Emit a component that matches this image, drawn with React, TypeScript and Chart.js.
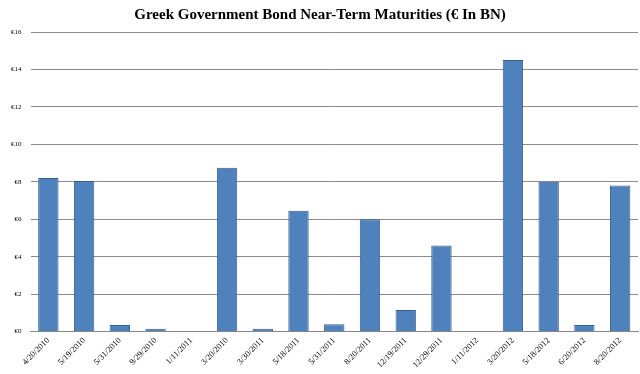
import React, { useEffect, useRef } from "react";
import { Chart, registerables } from "chart.js";

Chart.register(...registerables);

const categories = [
  "4/20/2010", "5/19/2010", "5/31/2010", "9/29/2010", "1/11/2011", "3/20/2010",
  "3/30/2011", "5/18/2011", "5/31/2011", "8/20/2011", "12/19/2011", "12/29/2011",
  "1/11/2012", "3/20/2012", "5/18/2012", "6/20/2012", "8/20/2012",
];
const maturities = [8.2, 8.05, 0.35, 0.15, 0, 8.75, 0.15, 6.45, 0.4, 6.0, 1.15, 4.6, 0, 14.5, 8.0, 0.35, 7.8];
const titleText = "Greek Government Bond Near-Term Maturities (€ In BN)";
const yMax = 16;
const yStep = 2;

export default function App() {
  const ref = useRef<HTMLCanvasElement | null>(null);
  useEffect(() => {
    document.body.style.margin = "0";
    const chart = new Chart(ref.current!, {
      type: "bar",
      data: {
        labels: categories,
        datasets: [
          {
            data: maturities,
            backgroundColor: "#4F81BD",
            borderColor: "#385D8A",
            borderWidth: 1,
            categoryPercentage: 1,
            barPercentage: 0.57,
          },
        ],
      },
      options: {
        animation: false,
        responsive: false,
        layout: { padding: { left: 2, right: 2, top: 2, bottom: 0 } },
        plugins: {
          legend: { display: false },
          tooltip: { enabled: false },
          title: {
            display: true,
            text: titleText,
            color: "#000",
            font: { family: "Liberation Serif", size: 15, weight: "bold" },
            padding: { top: 4, bottom: 8 },
          },
        },
        scales: {
          x: {
            grid: { display: false, drawTicks: false },
            border: { display: true, color: "#888" },
            ticks: {
              color: "#000",
              font: { family: "Liberation Serif", size: 8.5 },
              maxRotation: 45,
              minRotation: 45,
              autoSkip: false,
              padding: 4,
            },
          },
          y: {
            min: 0,
            max: yMax,
            grid: { color: "#8a8a8a", drawTicks: false },
            border: { display: false },
            ticks: {
              stepSize: yStep,
              color: "#000",
              font: { family: "Liberation Serif", size: 7 },
              padding: 9,
              callback: (v: any) => "€" + v,
            },
          },
        },
      },
    });
    return () => chart.destroy();
  }, []);
  return (
    <div style={{ position: "absolute", left: 0, top: 0, width: 640, height: 374, background: "#fff" }}>
      <canvas ref={ref} width={640} height={374} />
    </div>
  );
}
